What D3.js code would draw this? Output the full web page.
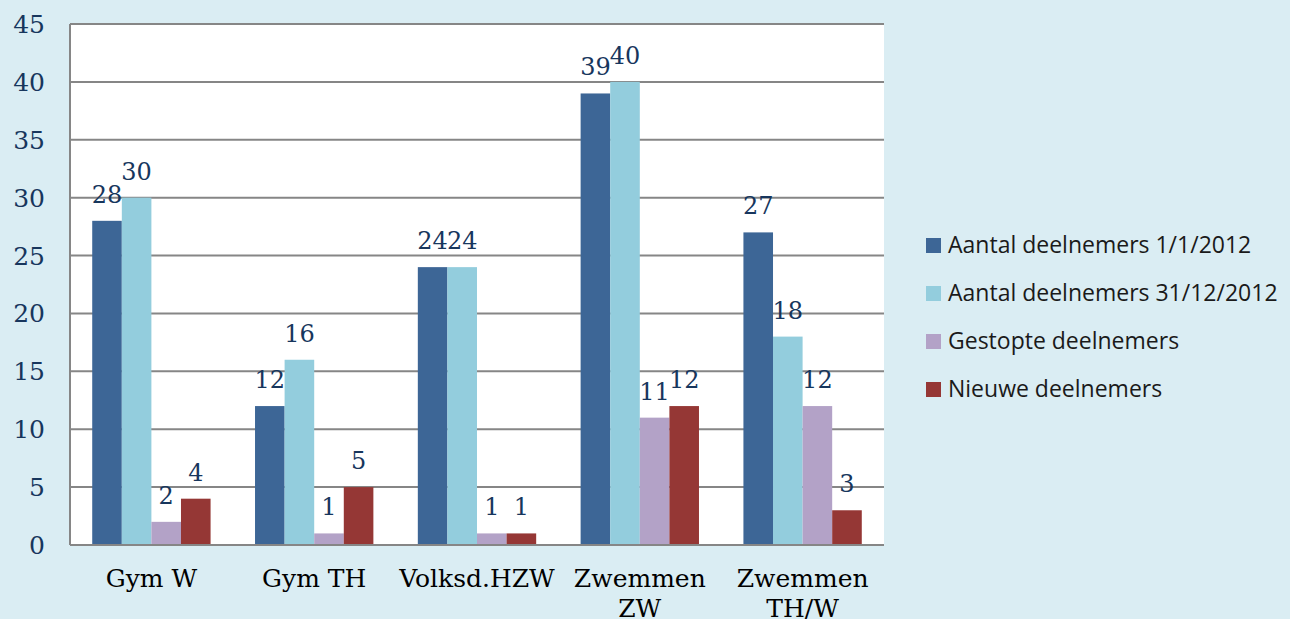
<!DOCTYPE html>
<html>
<head>
<meta charset="utf-8">
<script src="https://cdn.jsdelivr.net/npm/d3@7"></script>
<style>
  html, body { margin: 0; padding: 0; background: #daedf3; }
  svg { display: block; }
</style>
</head>
<body>
<svg id="chart" width="1290" height="619"></svg>
<script>
const categories = [['Gym W'], ['Gym TH'], ['Volksd.HZW'], ['Zwemmen', 'ZW'], ['Zwemmen', 'TH/W']];
const seriesNames = ['Aantal deelnemers 1/1/2012', 'Aantal deelnemers 31/12/2012', 'Gestopte deelnemers', 'Nieuwe deelnemers'];
const start2012 = [28, 12, 24, 39, 27];
const end2012 = [30, 16, 24, 40, 18];
const stopped = [2, 1, 1, 11, 12];
const newcomers = [4, 5, 1, 12, 3];
const yTicks = [0, 5, 10, 15, 20, 25, 30, 35, 40, 45];
const colors = ['#3d6696', '#93cddd', '#b3a2c7', '#953735'];

const series = [start2012, end2012, stopped, newcomers];

const svg = d3.select('#chart');
const margin = { top: 24, right: 406, bottom: 74, left: 70 };
const width = 1290 - margin.left - margin.right;
const height = 619 - margin.top - margin.bottom;

const chart = svg.append('g').attr('transform', `translate(${margin.left},${margin.top})`);

const x0 = d3.scaleBand().domain(d3.range(categories.length)).range([0, width])
  .paddingInner(0.273).paddingOuter(0.1365);
const x1 = d3.scaleBand().domain(d3.range(series.length)).range([0, x0.bandwidth()]);
const y = d3.scaleLinear().domain([0, 45]).range([height, 0]);

// plot area
chart.append('rect').attr('width', width).attr('height', height).attr('fill', '#ffffff');

// gridlines
chart.append('g').selectAll('line').data(yTicks.slice(1)).enter().append('line')
  .attr('x1', 0).attr('x2', width)
  .attr('y1', d => y(d)).attr('y2', d => y(d))
  .attr('stroke', '#868686').attr('stroke-width', 2);

// bars + value labels
series.forEach((vals, s) => {
  chart.append('g').selectAll('rect').data(vals).enter().append('rect')
    .attr('x', (d, i) => x0(i) + x1(s))
    .attr('y', d => y(d))
    .attr('width', x1.bandwidth())
    .attr('height', d => height - y(d))
    .attr('fill', colors[s]);
  chart.append('g').selectAll('text').data(vals).enter().append('text')
    .attr('x', (d, i) => x0(i) + x1(s) + x1.bandwidth() / 2)
    .attr('y', d => y(d) - 18)
    .attr('text-anchor', 'middle')
    .attr('font-family', 'DejaVu Serif')
    .attr('font-size', 24)
    .attr('fill', '#17365d')
    .text(d => d);
});

// axes lines
chart.append('line').attr('x1', 0).attr('x2', 0).attr('y1', 0).attr('y2', height)
  .attr('stroke', '#868686').attr('stroke-width', 2);
chart.append('line').attr('x1', 0).attr('x2', width).attr('y1', height).attr('y2', height)
  .attr('stroke', '#868686').attr('stroke-width', 2);

// y tick labels
chart.append('g').selectAll('text').data(yTicks).enter().append('text')
  .attr('x', -25)
  .attr('y', d => y(d))
  .attr('dy', '0.36em')
  .attr('text-anchor', 'end')
  .attr('font-family', 'DejaVu Serif')
  .attr('font-size', 25)
  .attr('fill', '#17365d')
  .text(d => d);

// category labels
const cat = chart.append('g').selectAll('text').data(categories).enter().append('text')
  .attr('x', (d, i) => x0(i) + x0.bandwidth() / 2)
  .attr('y', height + 42)
  .attr('text-anchor', 'middle')
  .attr('font-family', 'DejaVu Serif')
  .attr('font-size', 25)
  .attr('fill', '#000000');
cat.selectAll('tspan').data(d => d).enter().append('tspan')
  .attr('x', function () { return d3.select(this.parentNode).attr('x'); })
  .attr('dy', (d, i) => i === 0 ? 0 : 30)
  .text(d => d);

// legend
const legend = svg.append('g').attr('transform', 'translate(926,245)');
const item = legend.selectAll('g').data(seriesNames).enter().append('g')
  .attr('transform', (d, i) => `translate(0,${i * 48})`);
item.append('rect').attr('x', 0).attr('y', -7).attr('width', 15).attr('height', 15)
  .attr('fill', (d, i) => colors[i]);
item.append('text').attr('x', 22).attr('y', 0).attr('dy', '0.35em')
  .attr('font-family', 'Open Sans').attr('font-size', 23).attr('fill', '#1a1a1a')
  .text(d => d);
</script>
</body>
</html>
